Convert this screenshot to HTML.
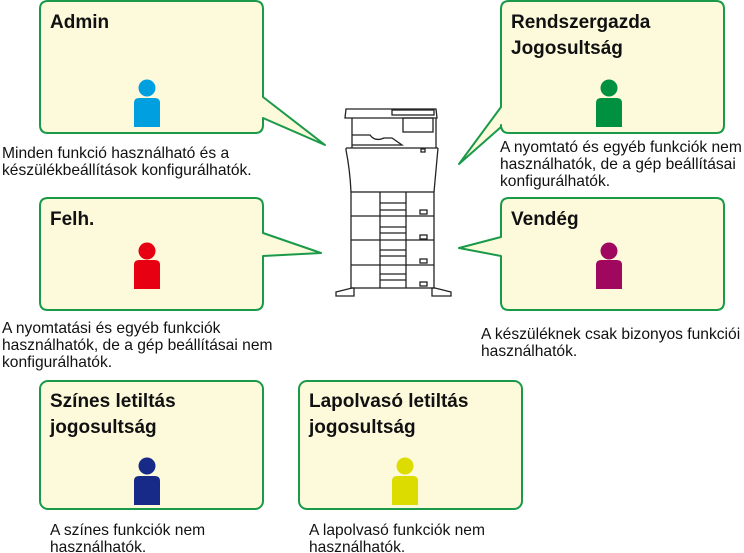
<!DOCTYPE html>
<html><head><meta charset="utf-8"><style>
html,body{margin:0;padding:0;background:#fff;}
svg{display:block;}
text{font-family:"Liberation Sans",Arial,sans-serif;fill:#111;}
.t{font-weight:bold;font-size:19px;}
.d{font-size:15.6px;}
.b{fill:#fdfadc;stroke:#1a9a48;stroke-width:2;stroke-linejoin:round;}
.p{fill:none;stroke:#222;stroke-width:1.3;}
</style></head><body>
<svg width="744" height="553" viewBox="0 0 744 553">
<!-- Admin -->
<path class="b" d="M48,1 H255 Q263,1 263,9 V97 L325,145 L263,118 V125 Q263,133 255,133 H48 Q40,133 40,125 V9 Q40,1 48,1 Z"/>
<text class="t" x="50" y="28">Admin</text>
<circle cx="147" cy="88" r="8.5" fill="#00a0e0"/><path d="M134,127 V103 Q134,98 139,98 H155 Q160,98 160,103 V127 Z" fill="#00a0e0"/>
<text class="d" x="2" y="158">Minden funkció használható és a</text>
<text class="d" x="2" y="175">készülékbeállítások konfigurálhatók.</text>
<!-- Felh -->
<path class="b" d="M48,198 H255 Q263,198 263,206 V233 L321,253 L263,256 V302 Q263,310 255,310 H48 Q40,310 40,302 V206 Q40,198 48,198 Z"/>
<text class="t" x="50" y="225">Felh.</text>
<circle cx="147" cy="251" r="8.5" fill="#e60012"/><path d="M134,289 V265 Q134,260 139,260 H155 Q160,260 160,265 V289 Z" fill="#e60012"/>
<text class="d" x="2" y="333">A nyomtatási és egyéb funkciók</text>
<text class="d" x="2" y="350">használhatók, de a gép beállításai nem</text>
<text class="d" x="2" y="367">konfigurálhatók.</text>
<!-- Rendszergazda -->
<path class="b" d="M509,1 H716 Q724,1 724,9 V125 Q724,133 716,133 H509 Q501,133 501,125 V127 L459,164 L501,107 V9 Q501,1 509,1 Z"/>
<text class="t" x="511" y="28">Rendszergazda</text>
<text class="t" x="511" y="54">Jogosultság</text>
<circle cx="609" cy="88" r="8.5" fill="#009140"/><path d="M596,127 V103 Q596,98 601,98 H617 Q622,98 622,103 V127 Z" fill="#009140"/>
<text class="d" x="500" y="152">A nyomtató és egyéb funkciók nem</text>
<text class="d" x="500" y="169">használhatók, de a gép beállításai</text>
<text class="d" x="500" y="186">konfigurálhatók.</text>
<!-- Vendég -->
<path class="b" d="M509,198 H716 Q724,198 724,206 V302 Q724,310 716,310 H509 Q501,310 501,302 V256 L459,248 L501,237 V206 Q501,198 509,198 Z"/>
<text class="t" x="511" y="225">Vendég</text>
<circle cx="609" cy="251" r="8.5" fill="#a0085f"/><path d="M596,289 V265 Q596,260 601,260 H617 Q622,260 622,265 V289 Z" fill="#a0085f"/>
<text class="d" x="481" y="339">A készüléknek csak bizonyos funkciói</text>
<text class="d" x="481" y="356">használhatók.</text>
<!-- Színes -->
<rect class="b" x="40" y="381" width="223" height="128" rx="8"/>
<text class="t" x="50" y="407">Színes letiltás</text>
<text class="t" x="50" y="433">jogosultság</text>
<circle cx="147" cy="466" r="8.5" fill="#172a88"/><path d="M134,505 V481 Q134,476 139,476 H155 Q160,476 160,481 V505 Z" fill="#172a88"/>
<text class="d" x="50" y="535">A színes funkciók nem</text>
<text class="d" x="50" y="552">használhatók.</text>
<!-- Lapolvasó -->
<rect class="b" x="299" y="381" width="223" height="128" rx="8"/>
<text class="t" x="309" y="407">Lapolvasó letiltás</text>
<text class="t" x="309" y="433">jogosultság</text>
<circle cx="405" cy="466" r="8.5" fill="#dcdc00"/><path d="M392,505 V481 Q392,476 397,476 H413 Q418,476 418,481 V505 Z" fill="#dcdc00"/>
<text class="d" x="309" y="535">A lapolvasó funkciók nem</text>
<text class="d" x="309" y="552">használhatók.</text>
<!-- Printer -->
<g class="p">
<path d="M346,109 H436 L437,118 H345 Z"/>
<rect x="392" y="110" width="42" height="5"/>
<path d="M352,118 V148 M436,118 V148"/>
<rect x="403" y="118" width="30" height="14"/>
<path d="M352,135 H370 Q375,142 384,138 H392 L402,145 H352"/>
<path d="M346,148 H438 M346,148 V150 Q350,170 351,192 M438,148 Q436,170 434,192"/>
<rect x="421" y="149" width="4" height="3"/>
<rect x="351" y="192" width="83" height="96"/>
<path d="M351,216 H434 M351,240 H434 M351,265 H434 M380,192 V288 M406,192 V288"/>
<path d="M380,203 H406 M380,210 H406 M380,227 H406 M380,233 H406 M380,250 H406 M380,256 H406 M380,274 H406 M380,280 H406"/>
<rect x="420" y="210" width="7" height="4"/><rect x="420" y="235" width="7" height="4"/><rect x="420" y="259" width="7" height="4"/><rect x="420" y="282" width="7" height="4"/>
<path d="M336,296 V292 L352,288 H354 V296 Z M451,296 V292 L435,288 H432 V296 Z"/>
</g>
</svg>
</body></html>
